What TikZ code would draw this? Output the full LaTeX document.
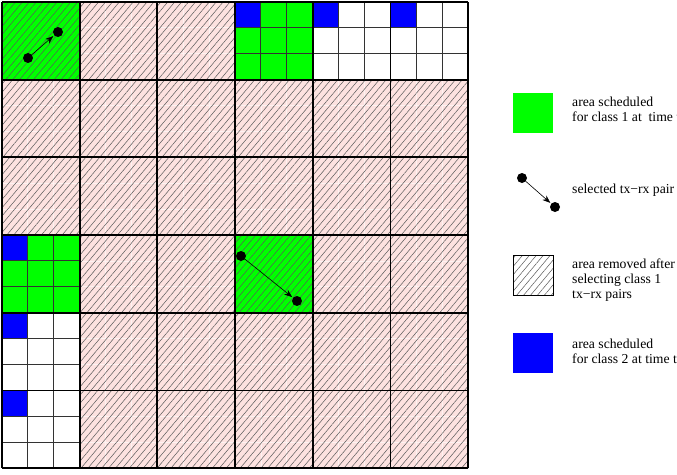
\documentclass[tikz,border=0pt]{standalone}
\usepackage{fontspec}
\setmainfont{Liberation Serif}
\usetikzlibrary{patterns.meta,arrows.meta}
\definecolor{pinkbg}{RGB}{253,226,224}
\definecolor{grn}{RGB}{0,255,0}
\definecolor{blu}{RGB}{0,0,255}
\tikzset{
  hatch/.style={pattern={Lines[angle=50,distance=5.3pt,line width=0.5pt]},pattern color=black!65},
  dot/.style={circle,fill=black,inner sep=0pt,minimum size=10pt},
  pairarrow/.style={-{Stealth[length=8pt,width=6pt]},line width=0.6pt,shorten >=1pt},
  bigline/.style={line width=1.7pt},
  smallline/.style={line width=1.1pt,black!80},
  faintline/.style={line width=0.8pt,white!55!pinkbg},
  legtext/.style={font=\fontsize{13.7}{15}\selectfont,align=left,anchor=base west,inner sep=0pt},
  legbox/.style={minimum size=40pt,inner sep=0pt,anchor=north west}
}
\begin{document}
\begin{tikzpicture}[x=1pt,y=-1pt]
\useasboundingbox (0,0) rectangle (677,474);
\def\ox{2}\def\oy{2}\def\s{77.67}\def\t{25.89}
% background pink hatched
\fill[pinkbg] (\ox,\oy) rectangle ++(6*\s,6*\s);
% faint sub-lines in pink cells
\foreach \k in {1,...,17}{
  \draw[faintline] (\ox+\k*\t,\oy) -- ++(0,6*\s);
  \draw[faintline] (\ox,\oy+\k*\t) -- ++(6*\s,0);
}
\fill[hatch] (\ox,\oy) rectangle ++(6*\s,6*\s);
% green hatched cells
\foreach \c/\r in {0/0,3/3}{
  \fill[grn] (\ox+\c*\s,\oy+\r*\s) rectangle ++(\s,\s);
  \fill[hatch] (\ox+\c*\s,\oy+\r*\s) rectangle ++(\s,\s);
}
% subdivided cells
\foreach \c/\r/\col in {3/0/grn,4/0/white,5/0/white,0/3/grn,0/4/white,0/5/white}{
  \fill[\col] (\ox+\c*\s,\oy+\r*\s) rectangle ++(\s,\s);
  \fill[blu] (\ox+\c*\s,\oy+\r*\s) rectangle ++(\t,\t);
  \foreach \k in {1,2}{
    \draw[smallline] (\ox+\c*\s+\k*\t,\oy+\r*\s) -- ++(0,\s);
    \draw[smallline] (\ox+\c*\s,\oy+\r*\s+\k*\t) -- ++(\s,0);
  }
}
% big grid
\foreach \k in {0,...,6}{
  \draw[bigline] (\ox+\k*\s,\oy) -- ++(0,6*\s);
  \draw[bigline] (\ox,\oy+\k*\s) -- ++(6*\s,0);
}
% pairs
\node[dot] (t1) at (28,58) {};
\node[dot] (r1) at (58,32) {};
\draw[pairarrow] (t1) -- (r1);
\node[dot] (t2) at (241,256) {};
\node[dot] (r2) at (297,301) {};
\draw[pairarrow] (t2) -- (r2);
% legend
\node[legbox,fill=grn] (lg) at (513,93) {};
\node[legtext] (lgt) at (572,121.7) {area scheduled\\for class 1 at\ \ time t};
\node[dot] (lt) at (522,178) {};
\node[dot] (lr) at (555,207) {};
\draw[pairarrow] (lt) -- (lr);
\node[legtext] (lpt) at (572,193.3) {selected tx−rx pair};
\node[legbox,draw=black,line width=0.7pt,fill=white] (lh) at (513,255) {};
\fill[hatch] (lh.north west) rectangle (lh.south east);
\draw[line width=0.8pt] (lh.north west) rectangle (lh.south east);
\node[legtext] (lht) at (572,298.3) {area removed after\\selecting class 1\\tx−rx pairs};
\node[legbox,fill=blu] (lb) at (513,333) {};
\node[legtext] (lbt) at (572,363) {area scheduled\\for class 2 at time t};
\end{tikzpicture}
\end{document}
